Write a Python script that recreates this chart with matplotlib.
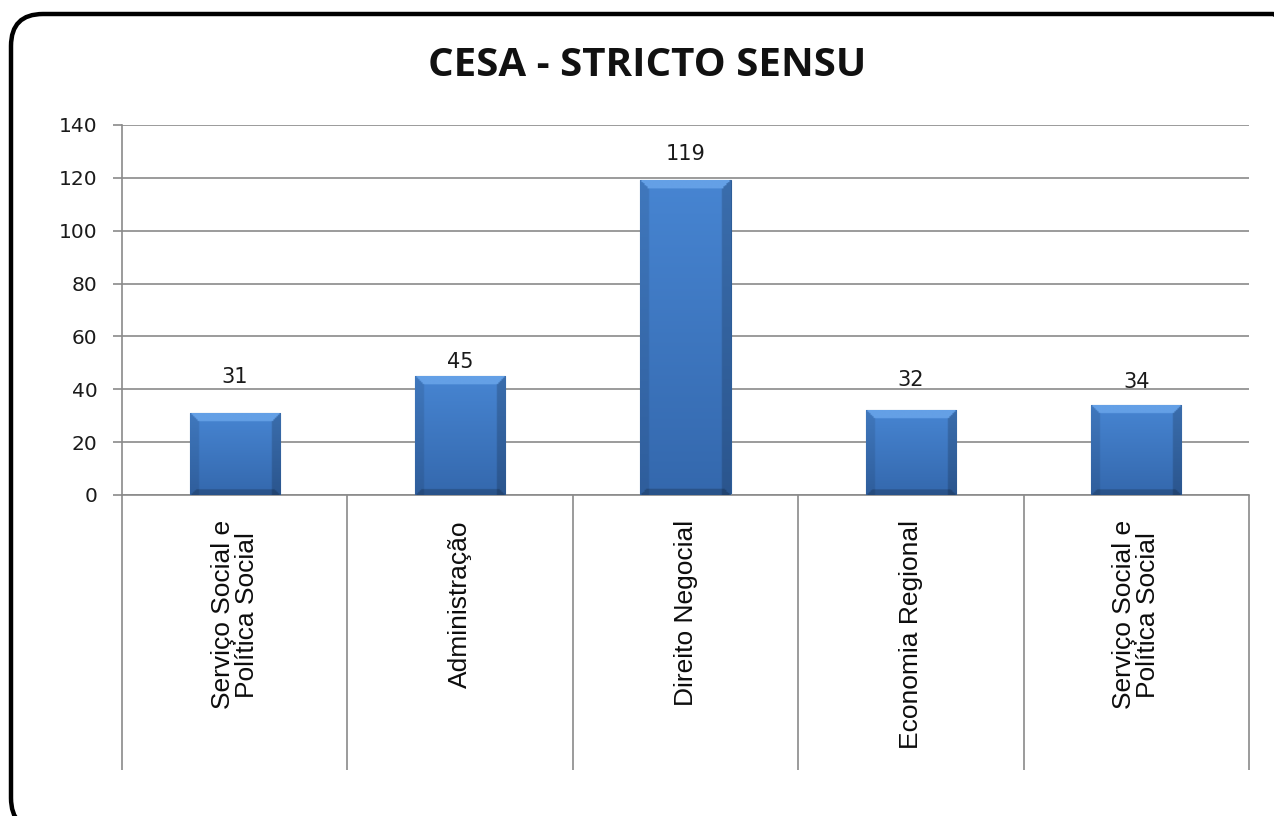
import numpy as np
import matplotlib
matplotlib.use("Agg")
import matplotlib.pyplot as plt
from matplotlib.patches import FancyBboxPatch
from matplotlib.colors import to_rgb

title = "CESA - STRICTO SENSU"
categories = ["Serviço Social e\nPolítica Social", "Administração", "Direito Negocial",
              "Economia Regional", "Serviço Social e\nPolítica Social"]
values = [31, 45, 119, 32, 34]
y_ticks = [0, 20, 40, 60, 80, 100, 120, 140]

# layout-only: label centre offsets above bars (points)
label_dy = [26, 10, 19, 22, 17]

W, H, DPI = 1274, 816, 100
fig = plt.figure(figsize=(W / DPI, H / DPI), dpi=DPI)
fig.patch.set_facecolor("white")

# rounded frame (partly cut by the image edge on the right and bottom)
frame = FancyBboxPatch((11 / DPI, (H - 830) / DPI), (1305 - 11) / DPI, (830 - 14) / DPI,
                       boxstyle="round,pad=0,rounding_size=0.32",
                       transform=fig.dpi_scale_trans, facecolor="none",
                       edgecolor="black", linewidth=3.2, zorder=0)
fig.patches.append(frame)

ax = fig.add_axes([122 / W, 1 - 495 / H, (1249 - 122) / W, (495 - 125) / H])
ax.set_facecolor("none")

x = np.arange(len(values))
bw = 0.40
grid_c = "#8a8a8a"

ax.set_xlim(-0.5, len(values) - 0.5)
ax.set_ylim(0, 140)
ax.set_yticks(y_ticks)
ax.yaxis.grid(True, color=grid_c, linewidth=1.2, zorder=0)
ax.set_axisbelow(True)

for s in ["top", "right"]:
    ax.spines[s].set_visible(False)
for s in ["left", "bottom"]:
    ax.spines[s].set_color(grid_c)
    ax.spines[s].set_linewidth(1.2)

ax.tick_params(axis="y", length=6.5, width=1.2, color=grid_c, pad=11,
               labelsize=14.5, labelcolor="#1a1a1a")
for lab in ax.get_yticklabels():
    lab.set_fontfamily("DejaVu Sans")

# category separators as long major ticks, labels as minor ticks
ax.set_xticks(np.arange(-0.5, len(values), 1.0))
ax.set_xticklabels([])
ax.tick_params(axis="x", which="major", length=198, width=1.2, color=grid_c, direction="out")
ax.set_xticks(x, minor=True)
ax.set_xticklabels(categories, minor=True, rotation=90, fontsize=19,
                   fontfamily="Liberation Sans", ha="center", va="top",
                   linespacing=1.0, color="#0d0d0d")
ax.tick_params(axis="x", which="minor", length=0, pad=18)

# bars with bevel gradient
base_top = np.array(to_rgb("#4785d2"))
base_bot = np.array(to_rgb("#3468ad"))
bars = ax.bar(x, values, width=bw, color="#3d78c4", edgecolor="#2d5d98",
              linewidth=0.8, zorder=2)
nx, ny = 60, 300
for b, v in zip(bars, values):
    x0 = b.get_x()
    x1 = x0 + b.get_width()
    ys = np.linspace(1, 0, ny)[:, None]
    xs = np.linspace(0, 1, nx)[None, :]
    img = base_bot[None, None, :] * (1 - ys[..., None]) + base_top[None, None, :] * ys[..., None]
    img = np.broadcast_to(img, (ny, nx, 3)).copy()
    h_px = v * (495 - 125) / 140
    w_px = 91
    bevel = 8
    px = xs * w_px
    py = (1 - ys) * h_px
    pyb = ys * h_px
    top_mask = (py < bevel) & (px > py) & (w_px - px > py)
    left_mask = (px < bevel) & ~top_mask
    right_mask = (w_px - px < bevel) & ~top_mask
    bot_mask = (pyb < bevel * 0.7) & (px > pyb) & (w_px - px > pyb)
    img[np.broadcast_to(top_mask, (ny, nx))] = np.array(to_rgb("#64a0e6"))
    img[np.broadcast_to(left_mask, (ny, nx))] *= 0.90
    img[np.broadcast_to(right_mask, (ny, nx))] *= 0.82
    img[np.broadcast_to(bot_mask, (ny, nx))] *= 0.80
    im = ax.imshow(img, extent=(x0, x1, 0, v), aspect="auto", zorder=3,
                   interpolation="bilinear")
    im.set_clip_path(b)

for xi, v, dy in zip(x, values, label_dy):
    ax.annotate(str(v), (xi, v), xytext=(0, dy), textcoords="offset points",
                ha="center", va="center", fontsize=15, fontfamily="DejaVu Sans",
                color="#1a1a1a")

ax.set_xlim(-0.5, len(values) - 0.5)
ax.set_ylim(0, 140)

fig.text(647 / W, 1 - 65 / H, title, ha="center", va="center", fontsize=29,
         fontweight="bold", fontfamily="Open Sans", color="#111111")

fig.savefig("out.png", dpi=DPI)
